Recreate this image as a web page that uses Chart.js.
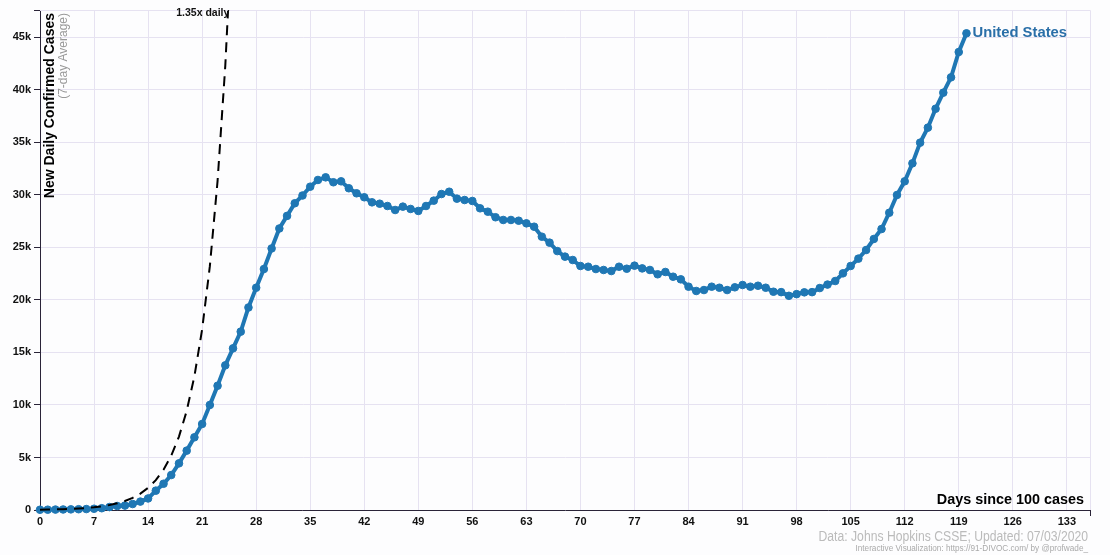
<!DOCTYPE html>
<html><head><meta charset="utf-8">
<script src="https://cdn.jsdelivr.net/npm/chart.js@4"></script>
<style>html,body{margin:0;padding:0;background:#fdfdfe;}canvas{display:block}</style>
</head><body>
<canvas id="c" width="1110" height="555"></canvas>
<script>
// ---- data ----
const countryName = 'United States';
const days = [0,1,2,3,4,5,6,7,8,9,10,11,12,13,14,15,16,17,18,19,20,21,22,23,24,25,26,27,28,29,30,31,32,33,34,35,36,37,38,39,40,41,42,43,44,45,46,47,48,49,50,51,52,53,54,55,56,57,58,59,60,61,62,63,64,65,66,67,68,69,70,71,72,73,74,75,76,77,78,79,80,81,82,83,84,85,86,87,88,89,90,91,92,93,94,95,96,97,98,99,100,101,102,103,104,105,106,107,108,109,110,111,112,113,114,115,116,117,118,119,120];
const newCases = [25,30,40,50,60,75,90,120,170,280,380,420,570,800,1100,1840,2500,3330,4440,5650,6920,8190,10000,11830,13770,15390,16980,19280,21160,22940,24900,26800,28000,29200,29940,30780,31420,31670,31200,31290,30630,30150,29770,29290,29160,28940,28560,28880,28660,28470,28940,29450,30080,30300,29640,29510,29420,28720,28400,27870,27610,27610,27540,27290,26970,26020,25450,24650,24120,23800,23230,23160,22940,22850,22750,23160,22970,23260,23000,22850,22440,22660,22210,21960,21260,20850,20940,21260,21160,20940,21200,21420,21260,21350,21160,20780,20740,20390,20550,20720,20740,21130,21460,21800,22530,23230,23930,24750,25800,26750,28300,29990,31290,33000,34970,36400,38200,39730,41190,43600,45380];
const guideLabel = '1.35x daily';
const guideDays = [0,1,2,3,4,5,6,7,8,9,10,11,12,13,14,15,16,17,18,19,20,21,22,23,24,25];
const guideCases = [31.5,42.5,57.4,77.5,104.6,141.2,190.7,257.4,347.5,469.2,633.4,855,1154,1558,2104,2840,3834,5176,6987,9433,12735,17193,23210,31333,42299,57103];
const xTicks = [0,7,14,21,28,35,42,49,56,63,70,77,84,91,98,105,112,119,126,133];
const yTicks = [0,5000,10000,15000,20000,25000,30000,35000,40000,45000];
const xMax = 136, yMax = 47600;

const FONT = "'Liberation Sans', Arial, sans-serif";
const GRID = '#e6e2f1';
const AXIS = '#2a2438';
const BLUE = '#1f77b4';

const overlay = {
  id: 'overlay',
  beforeDraw(chart) {
    const c = chart.ctx;
    c.save(); c.fillStyle = '#fdfdfe'; c.fillRect(0,0,chart.width,chart.height); c.restore();
  },
  afterDraw(chart) {
    const c = chart.ctx, a = chart.chartArea, xs = chart.scales.x, ys = chart.scales.y;
    c.save();
    // frame top/right
    c.strokeStyle = GRID; c.lineWidth = 1;
    c.beginPath(); c.moveTo(a.left, a.top + 0.5); c.lineTo(a.right + 0.5, a.top + 0.5); c.lineTo(a.right + 0.5, a.bottom); c.stroke();
    // outer ticks
    c.strokeStyle = AXIS;
    c.beginPath(); c.moveTo(a.left - 6, a.top + 0.5); c.lineTo(a.left, a.top + 0.5); c.stroke();
    c.beginPath(); c.moveTo(a.right + 0.5, a.bottom); c.lineTo(a.right + 0.5, a.bottom + 6); c.stroke();

    // y title
    c.save();
    c.translate(a.left + 10.5, a.top + 3);
    c.rotate(-Math.PI / 2);
    c.textAlign = 'right'; c.textBaseline = 'middle';
    c.fillStyle = '#000'; c.font = 'bold 14px ' + FONT;
    c.fillText('New Daily Confirmed Cases', 0, 0);
    c.fillStyle = '#999'; c.font = '12px ' + FONT;
    c.fillText('(7-day Average)', 0, 13.5);
    c.restore();

    // x title
    c.fillStyle = '#000'; c.font = 'bold 14.4px ' + FONT;
    c.textAlign = 'right'; c.textBaseline = 'middle';
    c.fillText('Days since 100 cases', a.right - 6, a.bottom - 10);

    // series label
    const last = newCases.length - 1;
    const px = xs.getPixelForValue(days[last]), py = ys.getPixelForValue(newCases[last]);
    c.fillStyle = '#2a6fa8'; c.font = 'bold 14.8px ' + FONT;
    c.textAlign = 'left'; c.textBaseline = 'middle';
    c.fillText(countryName, px + 6, py);

    // guide label at top crossing
    let dc = guideDays[guideDays.length - 1];
    for (let i = 1; i < guideCases.length; i++) {
      if (guideCases[i] >= yMax) {
        const f = Math.log(yMax / guideCases[i-1]) / Math.log(guideCases[i] / guideCases[i-1]);
        dc = guideDays[i-1] + f * (guideDays[i] - guideDays[i-1]);
        break;
      }
    }
    c.fillStyle = '#111'; c.font = 'bold 10.5px ' + FONT;
    c.textAlign = 'right'; c.textBaseline = 'middle';
    c.fillText(guideLabel, xs.getPixelForValue(dc) + 1, a.top + 3);

    // footer
    c.save();
    c.translate(a.right - 2, 537);
    c.scale(0.87, 1);
    c.fillStyle = '#bbb'; c.font = '14px ' + FONT;
    c.textAlign = 'right'; c.textBaseline = 'middle';
    c.fillText('Data: Johns Hopkins CSSE; Updated: 07/03/2020', 0, 0);
    c.restore();
    c.fillStyle = '#aaa'; c.font = '8.2px ' + FONT;
    c.textAlign = 'right'; c.textBaseline = 'middle';
    c.fillText('Interactive Visualization: https://91-DIVOC.com/ by @profwade_', a.right - 2, 549);
    c.restore();
  }
};

new Chart(document.getElementById('c'), {
  type: 'line',
  data: {
    datasets: [
      {
        label: guideLabel,
        data: guideDays.map((d, i) => ({x: d, y: guideCases[i]})),
        borderColor: '#000', borderWidth: 2, borderDash: [10, 7],
        pointRadius: 0, fill: false, tension: 0,
        clip: {left: 10, top: 0, right: 0, bottom: 10}
      },
      {
        label: countryName,
        data: days.map((d, i) => ({x: d, y: newCases[i]})),
        borderColor: BLUE, backgroundColor: BLUE, borderWidth: 4,
        pointRadius: 3.8, pointBorderWidth: 1, pointBackgroundColor: BLUE, pointBorderColor: BLUE,
        fill: false, tension: 0, clip: false
      }
    ]
  },
  options: {
    responsive: false, animation: false, devicePixelRatio: 1,
    layout: {padding: {top: 10, right: 20, left: 0, bottom: 0}},
    plugins: {legend: {display: false}, tooltip: {enabled: false}},
    events: [],
    scales: {
      x: {
        type: 'linear', min: 0, max: xMax,
        afterFit(s) { s.height = 45; },
        afterBuildTicks(s) { s.ticks = xTicks.map(v => ({value: v})); },
        grid: {color: GRID, drawTicks: false},
        border: {color: AXIS, width: 1},
        ticks: {padding: 5, color: '#111', font: {family: FONT, size: 11, weight: 'bold'}, maxRotation: 0, autoSkip: false}
      },
      y: {
        type: 'linear', min: 0, max: yMax,
        afterFit(s) { s.width = 40; },
        afterBuildTicks(s) { s.ticks = yTicks.map(v => ({value: v})); },
        grid: {color: GRID, tickColor: AXIS, tickLength: 6},
        border: {color: AXIS, width: 1},
        ticks: {padding: 3, color: '#111', font: {family: FONT, size: 11, weight: 'bold'},
          callback: v => v === 0 ? '0' : (v / 1000) + 'k'}
      }
    }
  },
  plugins: [overlay]
});
</script>
</body></html>
